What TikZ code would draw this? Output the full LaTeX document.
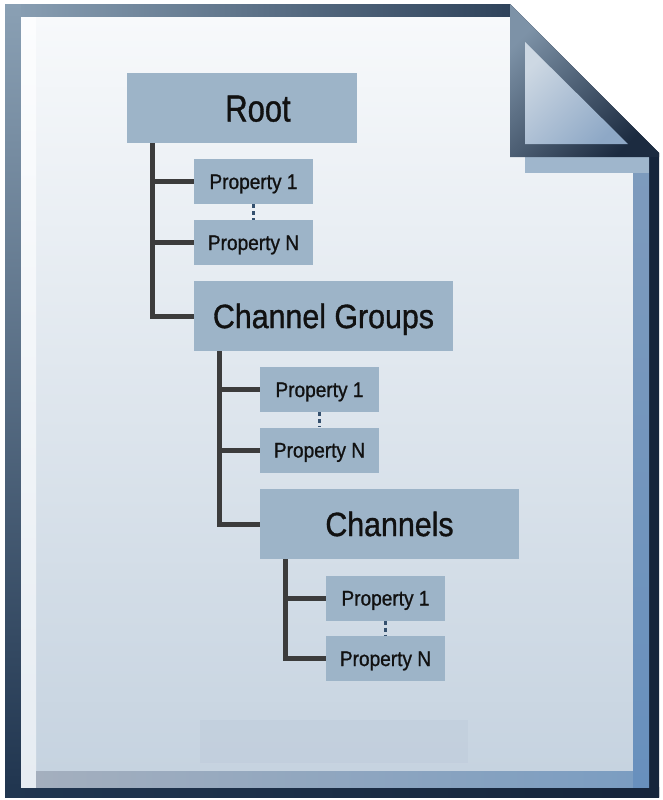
\documentclass[tikz,border=0pt]{standalone}
\usepackage{fontspec}
\newfontfamily\boxfont[FakeStretch=0.9,FakeBold=1]{Liberation Sans}
\newfontfamily\rootfont[FakeStretch=0.82,FakeBold=1]{Liberation Sans}
\usetikzlibrary{calc}

% page colours
\definecolor{frameLight}{HTML}{8AA0B4}
\definecolor{frameUpper}{HTML}{4A6080}
\definecolor{frameMid}{HTML}{2F435B}
\definecolor{frameLow}{HTML}{213650}
\definecolor{frameDark}{HTML}{16253B}
\definecolor{paperTop}{HTML}{F7F9FB}
\definecolor{paperMid}{HTML}{E1E8EF}
\definecolor{paperBot}{HTML}{C6D3E0}
\definecolor{edgeTop}{HTML}{FCFDFE}
\definecolor{edgeBot}{HTML}{E6ECF2}
\definecolor{footLeft}{HTML}{A4AFBE}
\definecolor{footRight}{HTML}{7B9DC1}
\definecolor{sideTop}{HTML}{7E9BBD}
\definecolor{sideBot}{HTML}{6890BD}
\definecolor{shadowStrip}{HTML}{9FB6CC}
\definecolor{flapLight}{HTML}{7D92A7}
\definecolor{flapDark}{HTML}{1C2B40}
\definecolor{flapInLight}{HTML}{CDD8E3}
\definecolor{flapInDark}{HTML}{8EA8C6}
\definecolor{footPanel}{HTML}{BDCADA}
% diagram colours
\definecolor{boxFill}{HTML}{9DB4C8}
\definecolor{treeLine}{HTML}{3C3C3C}
\definecolor{dotLine}{HTML}{34506E}
\definecolor{ink}{HTML}{111111}

\begin{document}
\begin{tikzpicture}[x=0.75pt,y=-0.75pt,
  boxbase/.style={fill=boxFill, draw=none, inner sep=0pt, text=ink,
                  text depth=0pt},
  propbox/.style={boxbase, minimum width=89.25pt, minimum height=33.75pt,
                  font=\boxfont\fontsize{15.9}{18}\selectfont, text height=11.3pt},
  groupbox/.style={boxbase, minimum width=194.25pt, minimum height=52.5pt,
                  font=\boxfont\fontsize{25.3}{28}\selectfont, text height=18.1pt},
  rootbox/.style={boxbase, minimum width=172.5pt, minimum height=52.5pt},
  roottext/.style={inner sep=0pt, text=ink, text depth=0pt, text height=20.3pt,
                  font=\rootfont\fontsize{28.3}{32}\selectfont},
  trunk/.style={draw=treeLine, line width=3.75pt},
  dots/.style={draw=dotLine, line width=2.6pt, dash pattern=on 3pt off 2.2pt}
]
\useasboundingbox (0,0) rectangle (662,800);

% ---- page sheet: dark outline, lighter top and left edges ----
\fill[frameDark]
  (5,4) -- (510,4) -- (659,153) -- (659,797) -- (5,797) -- cycle;
\shade[left color=frameLow, right color=frameDark] (5,787) rectangle (659,797);
\shade[left color=frameLight, right color=frameMid] (5,4) rectangle (510,17);
\shade[top color=frameLight, middle color=frameUpper, bottom color=frameLow]
  (5,4) rectangle (21,787);

% paper surface and its inner edges
\shade[top color=paperTop, middle color=paperMid, bottom color=paperBot]
  (21,17) -- (510,17) -- (510,157) -- (633,157) -- (633,771) -- (21,771) -- cycle;
\shade[top color=edgeTop, bottom color=edgeBot] (21,17) rectangle (36,787);
\shade[left color=footLeft, right color=footRight] (36,771) rectangle (633,787);
\shade[top color=sideTop, bottom color=sideBot] (633,157) rectangle (649,787);
\fill[shadowStrip] (525,157) rectangle (649,173);
\fill[footPanel, opacity=0.45] (200,720) rectangle (468,763);

% ---- folded corner ----
\shade[top color=flapLight, bottom color=flapDark, shading angle=45]
  (510,4) -- (659,153) -- (659,157) -- (510,157) -- cycle;
\shade[top color=flapInLight, bottom color=flapInDark, shading angle=45]
  (525,42) -- (628,144) -- (525,144) -- cycle;

% ---- tree boxes ----
\node[rootbox] (root) at (242,108) {};
\node[roottext] (rootlabel) at (258,108) {Root};
\node[propbox] (p1a) at (253.5,181.5) {Property 1};
\node[propbox] (pna) at (253.5,242.5) {Property N};
\node[groupbox] (cg) at (323.5,316) {Channel Groups};
\node[propbox] (p1b) at (319.5,389.5) {Property 1};
\node[propbox] (pnb) at (319.5,450) {Property N};
\node[groupbox] (ch) at (389.5,524) {Channels};
\node[propbox] (p1c) at (385.5,598) {Property 1};
\node[propbox] (pnc) at (385.5,658.5) {Property N};

% ---- connectors ----
\coordinate (t0) at ([xshift=19.5pt]root.south west);
\coordinate (t1) at ([xshift=19.5pt]cg.south west);
\coordinate (t2) at ([xshift=19.5pt]ch.south west);

\draw[trunk] (t0) |- (cg.west);
\draw[trunk] (t0 |- p1a.west) -- (p1a.west);
\draw[trunk] (t0 |- pna.west) -- (pna.west);
\draw[dots] (p1a.south) -- (pna.north);

\draw[trunk] (t1) |- (ch.west);
\draw[trunk] (t1 |- p1b.west) -- (p1b.west);
\draw[trunk] (t1 |- pnb.west) -- (pnb.west);
\draw[dots] (p1b.south) -- (pnb.north);

\draw[trunk] (t2) |- (pnc.west);
\draw[trunk] (t2 |- p1c.west) -- (p1c.west);
\draw[dots] (p1c.south) -- (pnc.north);
\end{tikzpicture}
\end{document}
